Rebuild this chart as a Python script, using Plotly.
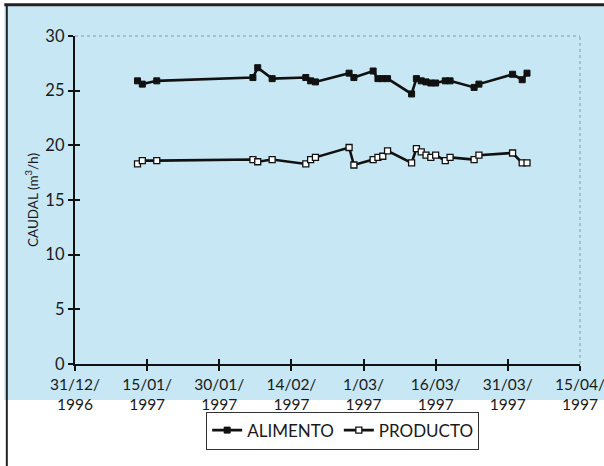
import plotly.graph_objects as go

# Sampling dates and flow rates (m3/h)
fechas = [
    "1997-01-13", "1997-01-14", "1997-01-17", "1997-02-06", "1997-02-07",
    "1997-02-10", "1997-02-17", "1997-02-18", "1997-02-19", "1997-02-26",
    "1997-02-27", "1997-03-03", "1997-03-04", "1997-03-05", "1997-03-06",
    "1997-03-11", "1997-03-12", "1997-03-13", "1997-03-14", "1997-03-15",
    "1997-03-16", "1997-03-18", "1997-03-19", "1997-03-24", "1997-03-25",
    "1997-04-01", "1997-04-03", "1997-04-04",
]
alimento = [
    25.9, 25.6, 25.9, 26.2, 27.1, 26.1, 26.2, 25.9, 25.8, 26.6,
    26.2, 26.8, 26.1, 26.1, 26.1, 24.7, 26.1, 25.9, 25.8, 25.7,
    25.7, 25.9, 25.9, 25.3, 25.6, 26.5, 26.0, 26.6,
]
producto = [
    18.3, 18.6, 18.6, 18.7, 18.5, 18.7, 18.3, 18.7, 18.9, 19.8,
    18.2, 18.7, 18.9, 19.0, 19.5, 18.4, 19.7, 19.4, 19.1, 18.9,
    19.1, 18.6, 18.9, 18.7, 19.1, 19.3, 18.4, 18.4,
]

tick_fechas = ["1996-12-31", "1997-01-15", "1997-01-30", "1997-02-14",
               "1997-03-01", "1997-03-16", "1997-03-31", "1997-04-15"]
tick_textos = ["31/12/<br>1996", "15/01/<br>1997", "30/01/<br>1997", "14/02/<br>1997",
               "1/03/<br>1997", "16/03/<br>1997", "31/03/<br>1997", "15/04/<br>1997"]
y_ticks = [0, 5, 10, 15, 20, 25, 30]

FONT = "Lato"
BLUE = "#c6e7f3"
x_range = ["1996-12-31", "1997-04-15 00:30"]

fig = go.Figure()
fig.add_trace(go.Scatter(
    x=fechas, y=alimento, name="ALIMENTO", mode="lines+markers",
    line=dict(color="#111111", width=2.6),
    marker=dict(symbol="square", size=6, color="#111111",
                line=dict(color="#111111", width=1)),
))
fig.add_trace(go.Scatter(
    x=fechas, y=producto, name="PRODUCTO", mode="lines+markers",
    line=dict(color="#111111", width=2.6),
    marker=dict(symbol="square", size=6, color="white",
                line=dict(color="#111111", width=1.3)),
))
# invisible trace on the overlay axes so their inner ticks get drawn
fig.add_trace(go.Scatter(x=[fechas[0]], y=[0], xaxis="x2", yaxis="y2",
                         mode="markers", marker=dict(opacity=0),
                         showlegend=False, hoverinfo="skip"))

axis_common = dict(showgrid=False, zeroline=False, linecolor="#111111",
                   linewidth=2.4, tickcolor="#111111", tickwidth=2.2,
                   automargin=False)

fig.update_layout(
    width=604, height=466,
    margin=dict(l=75, r=24, t=36, b=102),
    paper_bgcolor="white",
    plot_bgcolor="rgba(0,0,0,0)",
    font=dict(family=FONT, color="#1a1a1a", size=16),
    xaxis=dict(type="date", range=x_range, tickvals=tick_fechas,
               ticktext=tick_textos, ticks="outside", ticklen=5,
               tickfont=dict(size=15.5), showline=True,
               ticklabeloverflow="allow", **axis_common),
    yaxis=dict(range=[0, 30], tickvals=y_ticks, ticks="outside", ticklen=5,
               tickfont=dict(size=16.5), showline=True,
               title=dict(text="CAUDAL (m<sup>3</sup>/h)",
                          font=dict(size=13.5), standoff=4),
               **axis_common),
    xaxis2=dict(type="date", range=x_range, tickvals=tick_fechas,
                overlaying="x", anchor="y2", ticks="inside", ticklen=5,
                showticklabels=False, showline=False, showgrid=False,
                zeroline=False, tickcolor="#111111", tickwidth=2.2),
    yaxis2=dict(range=[0, 30], tickvals=y_ticks, overlaying="y",
                anchor="x2", side="left", ticks="inside", ticklen=5,
                showticklabels=False, showline=False, showgrid=False,
                zeroline=False, tickcolor="#111111", tickwidth=2.2),
    legend=dict(orientation="h", x=0.53, y=-0.145, xanchor="center",
                yanchor="top", bgcolor="white", bordercolor="#333333",
                borderwidth=1, font=dict(size=17), itemwidth=30,
                tracegroupgap=0),
    showlegend=True,
)

shapes = [
    # blue panel behind the chart
    dict(type="rect", xref="paper", yref="paper", x0=-0.14, x1=1.06,
         y0=-0.11, y1=1.095, fillcolor=BLUE, line=dict(width=0), layer="below"),
    # dotted frame on top and right of the plotting area
    dict(type="line", xref="paper", yref="paper", x0=0, x1=1, y0=1, y1=1,
         line=dict(color="#8a9aa0", width=1, dash="dot"), layer="below"),
    dict(type="line", xref="paper", yref="paper", x0=1, x1=1, y0=0, y1=1,
         line=dict(color="#8a9aa0", width=1, dash="dot"), layer="below"),
    # outer page border (top and left)
    dict(type="line", xref="paper", yref="paper", x0=-0.14, x1=1.06,
         y0=1.095, y1=1.095, line=dict(color="#222222", width=3)),
    dict(type="line", xref="paper", yref="paper", x0=-0.135, x1=-0.135,
         y0=-0.32, y1=1.095, line=dict(color="#222222", width=2)),
]
fig.update_layout(shapes=shapes)

fig.write_html("out.html")
